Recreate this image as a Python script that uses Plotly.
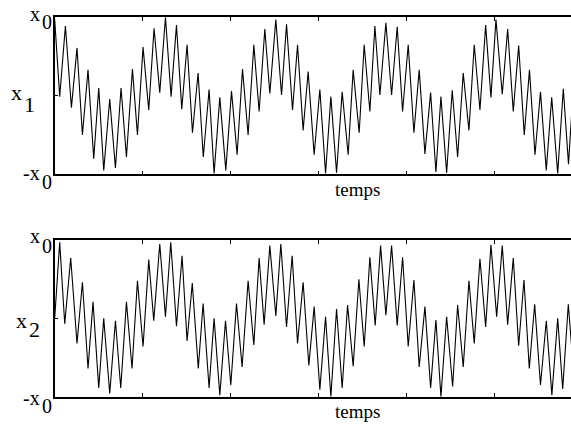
import plotly.graph_objects as go
from plotly.subplots import make_subplots

W, H = 571, 425

# ---- data (time in arbitrary units, value in units of x0) ----
t1 = [0, 5, 10.7, 16.7, 22.3, 27.7, 33.3, 39.0, 44.0, 49.0, 55.0, 60.7, 66.3, 71.7, 77.7, 82.7,
      88.3, 94.0, 99.3, 105.0, 110.7, 116.3, 121.7, 127.0, 132.3, 137.7, 143.3, 148.5, 154.3, 159.3,
      165.0, 171.0, 176.7, 182.3, 187.7, 193.3, 199.0, 204.3, 210.0, 215.0, 221.0, 226.7, 231.7,
      237.7, 242.7, 248.3, 253.3, 259.3, 265.0, 270.7, 276.0, 281.7, 287.3, 293.3, 298.3, 304.3,
      309.3, 315.0, 320.0, 325.0, 331.0, 336.7, 342.3, 347.7, 353.3, 359.0, 364.3, 370.0, 375.7,
      381.0, 386.0, 391.7, 397.3, 402.7, 408.3, 414.0, 419.3, 425.0, 430.7, 436.0, 441.0, 447.3,
      452.7, 458.3, 463.7, 469.3, 474.5, 480.0, 485.5, 491.3, 496.7, 502.7, 508.3, 513.5, 519.0]
x1 = [0.97, -0.01, 0.89, -0.15, 0.61, -0.50, 0.33, -0.80, 0.10, -0.95, -0.04, -0.92, 0.10, -0.78,
      0.34, -0.50, 0.62, -0.18, 0.86, 0.04, 1.00, -0.01, 0.90, -0.17, 0.65, -0.47, 0.29, -0.78,
      0.08, -0.99, -0.02, -0.95, 0.06, -0.75, 0.34, -0.50, 0.65, -0.20, 0.85, 0.03, 0.97, 0.01,
      0.91, -0.18, 0.65, -0.44, 0.31, -0.75, 0.08, -0.99, -0.01, -0.98, 0.05, -0.75, 0.33, -0.47,
      0.65, -0.20, 0.89, 0.01, 0.93, 0.01, 0.88, -0.20, 0.65, -0.47, 0.33, -0.74, 0.04, -0.97,
      -0.01, -0.98, 0.07, -0.78, 0.29, -0.44, 0.65, -0.18, 0.90, -0.02, 0.97, 0.02, 0.85, -0.20,
      0.64, -0.50, 0.33, -0.75, 0.05, -0.95, -0.02, -0.99, 0.09, -0.87, 0.25]

t2 = [0, 5.0, 10.0, 16.0, 22.3, 27.7, 33.3, 38.3, 44.0, 49.0, 55.0, 60.7, 66.0, 71.7, 77.3, 82.7,
      88.3, 94.0, 99.0, 105.0, 110.7, 116.0, 121.7, 127.3, 132.3, 137.5, 143.5, 148.3, 154.3, 159.3,
      165.0, 170.7, 176.0, 181.7, 187.3, 193.3, 199.0, 204.3, 209.3, 215.0, 221.0, 226.0, 231.7,
      237.3, 242.7, 248.3, 254.0, 259.3, 265.0, 270.7, 276.0, 281.7, 287.3, 292.7, 298.3, 304.0,
      309.3, 315.0, 320.3, 325.7, 331.0, 336.7, 342.3, 347.7, 353.3, 359.0, 364.3, 370.0, 375.7,
      381.0, 386.0, 391.7, 397.7, 402.7, 408.3, 414.0, 419.3, 425.0, 430.7, 436.0, 441.7, 447.3,
      452.7, 458.3, 463.7, 469.0, 474.3, 479.7, 485.5, 491.3, 496.9, 502.7, 507.7, 513.3, 519.0]
x2 = [0.00, 0.97, -0.07, 0.77, -0.32, 0.46, -0.64, 0.21, -0.89, 0.00, -0.96, -0.03, -0.89, 0.21,
      -0.64, 0.48, -0.36, 0.75, -0.03, 0.95, 0.02, 0.97, -0.10, 0.80, -0.29, 0.45, -0.64, 0.19,
      -0.89, 0.00, -0.98, -0.03, -0.85, 0.19, -0.62, 0.48, -0.34, 0.77, -0.08, 0.93, 0.03, 0.95,
      -0.11, 0.80, -0.32, 0.46, -0.60, 0.15, -0.91, 0.02, -1.00, 0.12, -0.89, 0.17, -0.61, 0.50,
      -0.36, 0.78, -0.09, 0.93, 0.04, 0.93, -0.09, 0.78, -0.36, 0.49, -0.62, 0.15, -0.89, -0.02,
      -1.00, 0.02, -0.87, 0.17, -0.62, 0.48, -0.32, 0.76, -0.11, 0.94, 0.02, 0.93, -0.08, 0.77,
      -0.35, 0.49, -0.64, 0.18, -0.85, -0.03, -0.98, 0.00, -0.90, 0.18, -0.75]

x_ticks = [88, 176, 264, 352, 440]
t_range = [0, 516]
x_label = "temps"

# ---- layout geometry (pixels) ----
left = 54.7
top1, bot1 = 17.3, 174.3
top2, bot2 = 240.0, 396.7

fig = make_subplots(rows=2, cols=1)
fig.add_trace(go.Scatter(x=t1, y=x1, mode="lines", line=dict(color="black", width=1.1),
                         showlegend=False), row=1, col=1)
fig.add_trace(go.Scatter(x=t2, y=x2, mode="lines", line=dict(color="black", width=1.1),
                         showlegend=False), row=2, col=1)

xdom = [left / W, 1.0]
common_x = dict(range=t_range, showgrid=False, zeroline=False, showline=True, linecolor="black",
                linewidth=1.5, mirror="ticks", ticks="inside", ticklen=4, tickwidth=1,
                tickcolor="black", tickvals=x_ticks, showticklabels=False, domain=xdom)
common_y = dict(range=[-1, 1], showgrid=False, zeroline=False, showline=True, linecolor="black",
                linewidth=1.5, mirror=False, ticks="inside", ticklen=4, tickwidth=1,
                tickcolor="black", tickvals=[0], showticklabels=False)
fig.update_layout(
    xaxis=common_x, xaxis2=common_x,
    yaxis=dict(common_y, domain=[1 - bot1 / H, 1 - top1 / H]),
    yaxis2=dict(common_y, domain=[1 - bot2 / H, 1 - top2 / H]),
    width=W, height=H, margin=dict(l=0, r=0, t=0, b=0),
    paper_bgcolor="white", plot_bgcolor="white",
)

FONT = "Liberation Serif"


def label(text, px, baseline, fs, anchor):
    ymid = baseline - 0.3375 * fs
    fig.add_annotation(x=px / W, y=1 - ymid / H, xref="paper", yref="paper", text=text,
                       showarrow=False, xanchor=anchor, yanchor="middle", borderpad=0,
                       font=dict(family=FONT, size=fs, color="black"))


# top panel labels
label("x", 41, 21, 20, "right")
label("0", 41, 29, 20, "left")
label("-x", 41, 180, 20, "right")
label("0", 41, 189, 20, "left")
label("x", 23.5, 100, 22, "right")
label("1", 23.5, 112, 22, "left")
label(x_label, 357, 196, 19, "center")

# bottom panel labels
label("x", 41, 243, 20, "right")
label("0", 41, 253, 20, "left")
label("-x", 41, 405, 20, "right")
label("0", 41, 413, 20, "left")
label("x", 28, 328, 22, "right")
label("2", 28, 337, 22, "left")
label(x_label, 357, 418, 19, "center")

fig.write_html("out.html")
